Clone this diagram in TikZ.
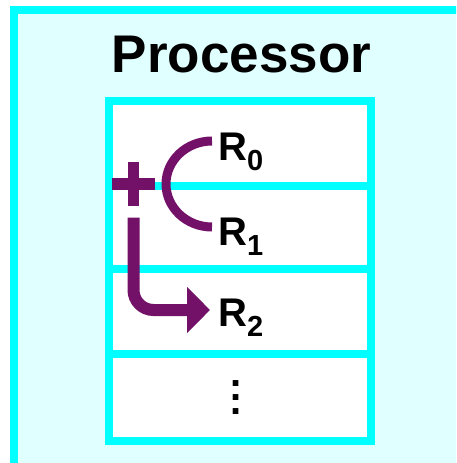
\documentclass[tikz,border=0pt]{standalone}
\usepackage{fontspec}
\setmainfont{Liberation Sans}
\usetikzlibrary{arrows.meta}
\usepackage{xcolor}
\definecolor{regcyan}{HTML}{00FFFF}
\definecolor{procfill}{HTML}{E0FFFF}
\definecolor{oppurple}{HTML}{731068}
\newcommand{\regsub}[1]{\raisebox{-10pt}{\fontsize{29}{29}\selectfont #1}}

\begin{document}
\begin{tikzpicture}[x=1pt,y=-1pt,
    regline/.style={regcyan,line width=8pt},
    reglabel/.style={anchor=base west,inner sep=0pt,font=\bfseries\fontsize{40}{40}\selectfont},
    opline/.style={oppurple,line width=9pt}]
\useasboundingbox (0,0) rectangle (456,463);
\clip (0,0) rectangle (456,463);
% Processor frame
\fill[procfill] (14,10) rectangle (470,476);
\draw[regline] (14,10) rectangle (470,476);
\node[anchor=base,inner sep=0pt,font=\bfseries\fontsize{53}{53}\selectfont] (title) at (241.5,72) {Processor};
% Register file
\fill[white] (109,101) rectangle (371,441);
\foreach \y in {185.5,269,353.5} {
    \draw[regline] (109,\y) -- (371,\y);
}
\draw[regline] (109,101) rectangle (371,441);
% Registers
\node[reglabel] (r0) at (218,160) {R\regsub{0}};
\node[reglabel] (r1) at (218,245) {R\regsub{1}};
\node[reglabel] (r2) at (218,326) {R\regsub{2}};
\node[inner sep=0pt,font=\bfseries\fontsize{40}{40}\selectfont] (dots) at (236,398)
    {\vbox{\baselineskip=14pt\hbox{.}\hbox{.}\hbox{.}}};
% Adder
\node[inner sep=0pt,minimum size=43pt] (plus) at (133.5,184) {};
\draw[opline,line width=12pt] (plus.west) -- (plus.east);
\draw[opline,line width=11pt] (plus.north) -- (plus.south);
% Operands in
\draw[opline] ([xshift=-6pt,yshift=19pt]r0.base west)
    arc[start angle=270,end angle=90,x radius=46,y radius=43];
% Result out
\coordinate (sum) at ([yshift=-12pt]plus.south);
\draw[opline,line width=12pt,rounded corners=20pt,-{Triangle[length=23pt,width=45pt]}]
    (sum) |- ([xshift=-8pt,yshift=16pt]r2.base west);
\end{tikzpicture}
\end{document}
